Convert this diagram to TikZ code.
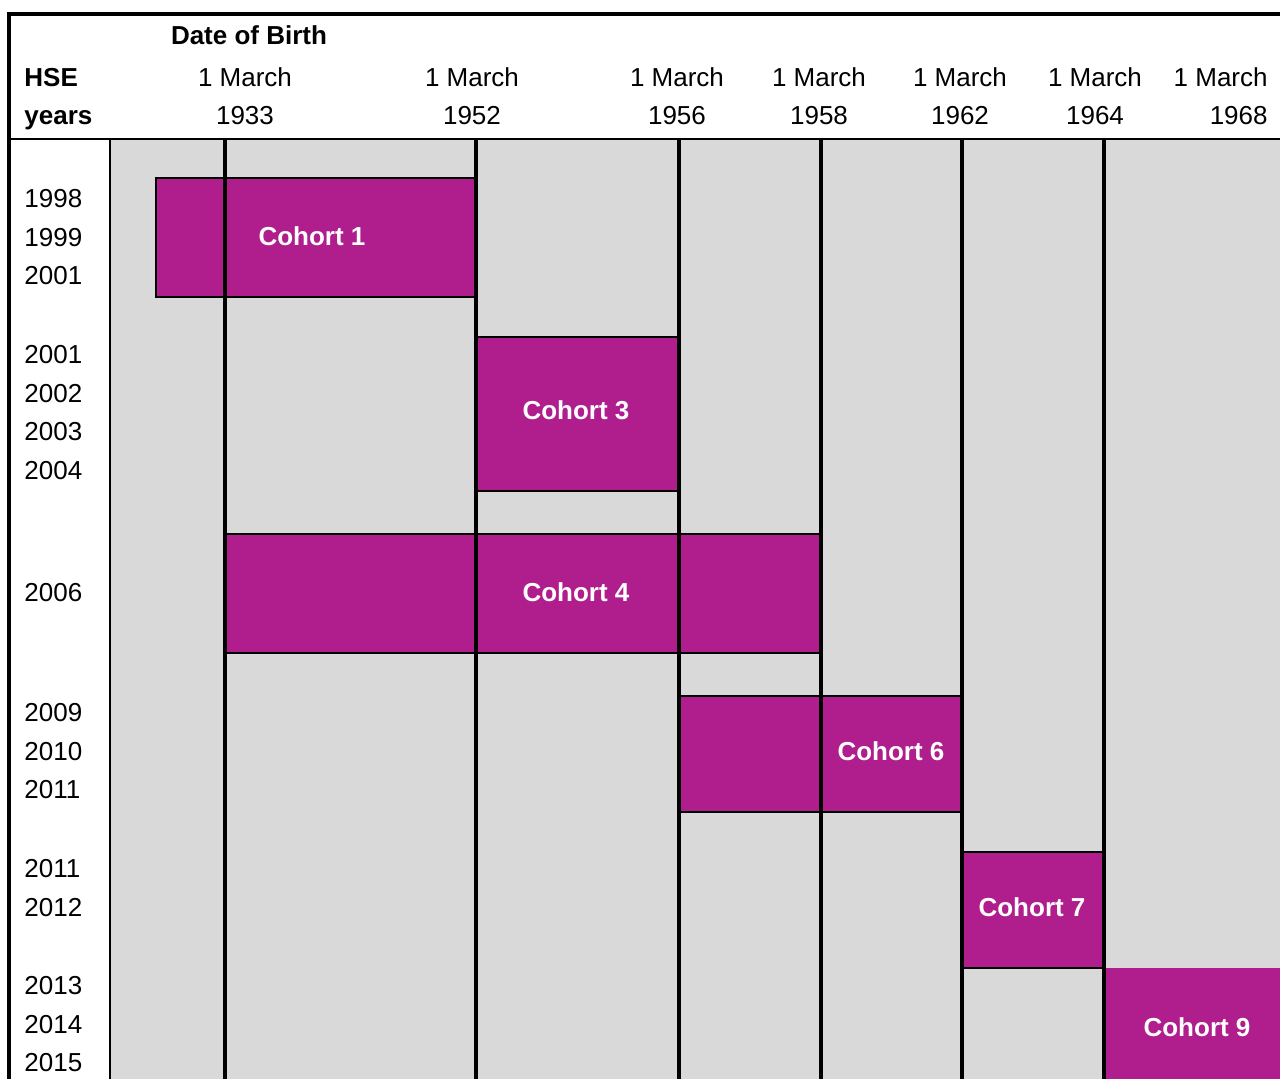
\documentclass[tikz,border=0pt]{standalone}
\usepackage{fontspec}
\setmainfont{Liberation Sans}
\usepackage{xcolor}
\usepackage{tikz}
\usetikzlibrary{positioning}

\definecolor{cohortpurple}{RGB}{176,30,142}
\definecolor{panelgrey}{RGB}{217,217,217}

\begin{document}
\begin{tikzpicture}[x=0.5pt, y=-0.5pt, font=\fontsize{13}{19}\selectfont]
    \tikzstyle{cohortbox} = [fill=cohortpurple, draw=black, line width=1pt]
    \tikzstyle{divider} = [draw, line width=1.75pt]
    \tikzstyle{thinline} = [draw, line width=1pt]
    \tikzstyle{yearlbl} = [inner sep=0pt, text height=9.3pt, text depth=0pt, anchor=west]
    \tikzstyle{nextyear} = [yearlbl, anchor=north west]
    \tikzstyle{datelbl} = [inner sep=0pt, align=center]
    \tikzstyle{cohortlbl} = [inner sep=0pt, text=white, font=\fontsize{13}{19}\selectfont\bfseries]

    \useasboundingbox (0,0) rectangle (1280,1079);

    % grey panel and cohort blocks
    \fill [panelgrey] (110,139) rectangle (1280,1079);
    \path [cohortbox] (156,178) rectangle (476,297);
    \path [cohortbox] (476,337) rectangle (679,491);
    \path [cohortbox] (225,534) rectangle (821,653);
    \path [cohortbox] (679,696) rectangle (962,812);
    \path [cohortbox] (962,852) rectangle (1104,968);
    \fill [cohortpurple] (1104,968) rectangle (1280,1079);

    % frame and column dividers
    \path [divider] (1280,14) -- (9,14) -- (9,1079);
    \path [thinline] (9,139) -- (1280,139);
    \path [thinline] (110,139) -- (110,1079);
    \path [divider] (225,139) -- (225,1079);
    \path [divider] (476,139) -- (476,1079);
    \path [divider] (679,139) -- (679,1079);
    \path [divider] (821,139) -- (821,1079);
    \path [divider] (962,139) -- (962,1079);
    \path [divider] (1104,139) -- (1104,1079);

    % header
    \node [inner sep=0pt, font=\fontsize{13}{19}\selectfont\bfseries] (dob) at (249,35) {Date of Birth};
    \node [inner sep=0pt, align=left, anchor=north west, font=\fontsize{13}{19}\selectfont\bfseries] (hse) at (24,68) {HSE\\years};
    \node [datelbl] (d1933) at (245,96) {1 March\\1933};
    \node [datelbl] (d1952) at (472,96) {1 March\\1952};
    \node [datelbl] (d1956) at (677,96) {1 March\\1956};
    \node [datelbl] (d1958) at (819,96) {1 March\\1958};
    \node [datelbl] (d1962) at (960,96) {1 March\\1962};
    \node [datelbl] (d1964) at (1095,96) {1 March\\1964};
    \node [datelbl, align=right, anchor=east] (d1968) at (1268,96) {1 March\\1968};

    % survey years
    \node [yearlbl] (yr1998) at (24,198) {1998};
    \node [below=9.7pt of yr1998.south west, nextyear] (yr1999) {1999};
    \node [below=9.7pt of yr1999.south west, nextyear] (yr2001a) {2001};

    \node [yearlbl] (yr2001b) at (24,354) {2001};
    \node [below=9.7pt of yr2001b.south west, nextyear] (yr2002) {2002};
    \node [below=9.7pt of yr2002.south west, nextyear] (yr2003) {2003};
    \node [below=9.7pt of yr2003.south west, nextyear] (yr2004) {2004};

    \node [yearlbl] (yr2006) at (24,592) {2006};

    \node [yearlbl] (yr2009) at (24,712) {2009};
    \node [below=9.7pt of yr2009.south west, nextyear] (yr2010) {2010};
    \node [below=9.7pt of yr2010.south west, nextyear] (yr2011a) {2011};

    \node [yearlbl] (yr2011b) at (24,868) {2011};
    \node [below=9.7pt of yr2011b.south west, nextyear] (yr2012) {2012};

    \node [yearlbl] (yr2013) at (24,985) {2013};
    \node [below=9.7pt of yr2013.south west, nextyear] (yr2014) {2014};
    \node [below=9.7pt of yr2014.south west, nextyear] (yr2015) {2015};

    % cohort labels
    \node [cohortlbl] (c1) at (312,236) {Cohort 1};
    \node [cohortlbl] (c3) at (576,410) {Cohort 3};
    \node [cohortlbl] (c4) at (576,592) {Cohort 4};
    \node [cohortlbl] (c6) at (891,751) {Cohort 6};
    \node [cohortlbl] (c7) at (1032,907) {Cohort 7};
    \node [cohortlbl] (c9) at (1197,1027) {Cohort 9};
\end{tikzpicture}
\end{document}
